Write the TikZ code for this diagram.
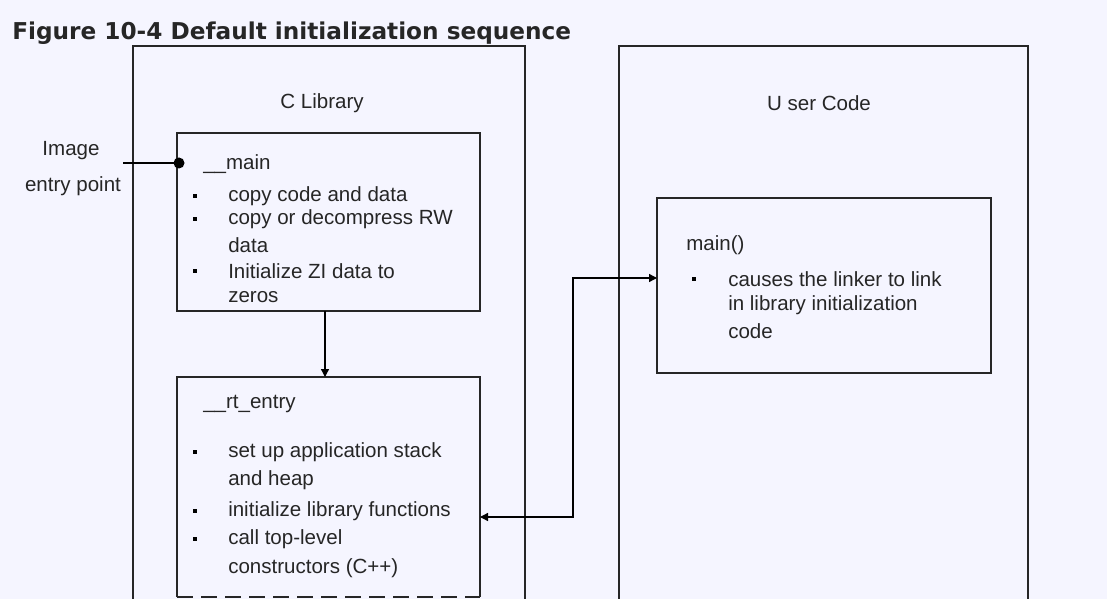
\documentclass[tikz,border=0pt]{standalone}
\usepackage{fontspec}
\setmainfont{Liberation Sans}
\newfontfamily\titlefont{DejaVu Sans}
\usetikzlibrary{arrows.meta}
\begin{document}
\begin{tikzpicture}[x=0.75pt,y=-0.75pt,
  box/.style={draw=black!85,line width=1pt},
  txt/.style={anchor=west,inner sep=0pt,font=\fontsize{15.4}{17}\selectfont,text=black!85,yshift=-1.5pt},
  ctr/.style={inner sep=0pt,font=\fontsize{15.4}{17}\selectfont,text=black!85,yshift=-1.5pt},
  bul/.style={rectangle,fill=black,inner sep=0pt,minimum size=3.5pt},
  arr/.style={line width=1pt,-{Triangle[length=6pt,width=6pt]}}]
\fill[white!96!blue] (0,0) rectangle (1107,599);
\useasboundingbox (0,0) rectangle (1107,599);
\begin{scope}
\clip (0,0) rectangle (1107,599);
\node[anchor=west,inner sep=0pt,font=\titlefont\bfseries\fontsize{17.4}{19}\selectfont,text=black!85] (title) at (12,33) {Figure 10-4 Default initialization sequence};
\draw[box] (133,620) -- (133,46) -- (525,46) -- (525,620);
\draw[box] (619,620) -- (619,46) -- (1028,46) -- (1028,620);
\node[ctr] (clib) at (322,101) {C Library};
\node[ctr] (ucode) at (819,101) {U ser Code};
\node[ctr] (img) at (71,149) {Image};
\node[ctr] (ep) at (73,184) {entry point};
% __main box
\draw[box] (177,133) rectangle (480,311);
\node[inner sep=0pt] (mainbox) at (328,222) {};
\fill (179,163) circle[radius=5.5];
\coordinate (epl) at (123,163);
\draw[line width=1pt] (epl) -- (179,163);
\node[txt] (m0) at (203,162) {\_\_main};
\foreach \y in {194,217,269}
  \node[bul] at (195,\y+2) {};
\node[txt] (m1) at (228,194) {copy code and data};
\node[txt] (m2) at (228,217) {copy or decompress RW};
\node[txt] (m3) at (228,243) {data};
\node[txt] (m4) at (228,269) {Initialize ZI data to};
\node[txt] (m5) at (228,295) {zeros};
% rt_entry box
\draw[box] (177,597) -- (177,377) -- (480,377) -- (480,597);
\draw[box,dash pattern=on 12pt off 6pt] (177,597) -- (480,597);
\coordinate (rtn) at (325,377);
\coordinate (mbs) at (325,311);
\draw[arr] (mbs) -- (rtn);
\node[txt] (r0) at (203,402) {\_\_rt\_entry};
\foreach \y in {450,509,537} \node[bul] at (195,\y+2) {};
\node[txt] (r1) at (228,450) {set up application stack};
\node[txt] (r2) at (228,478) {and heap};
\node[txt] (r3) at (228,509) {initialize library functions};
\node[txt] (r4) at (228,537) {call top-level};
\node[txt] (r5) at (228,566) {constructors (C++)};
% main() box
\draw[box] (657,198) rectangle (991,373);
\node[txt] (u0) at (686,243) {main()};
\node[bul] at (694,279) {};
\node[txt] (u1) at (728,277) {causes the linker to link};
\node[txt] (u2) at (728,303) {in library initialization};
\node[txt] (u3) at (728,329) {code};
\coordinate (rtr) at (480,517);
\coordinate (ml) at (657,278);
\draw[arr,{Triangle[length=6pt,width=6pt]}-{Triangle[length=6pt,width=6pt]}] (rtr) -- (573,517) -- (573,278) -- (ml);
\end{scope}
\end{tikzpicture}
\end{document}
